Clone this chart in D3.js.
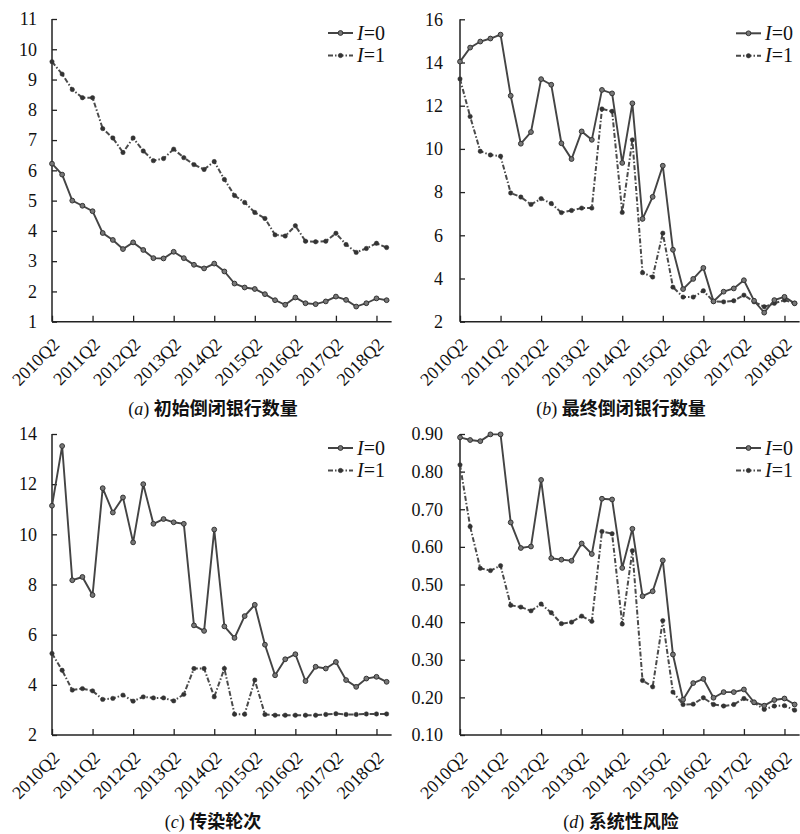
<!DOCTYPE html>
<html><head><meta charset="utf-8">
<script src="https://cdn.jsdelivr.net/npm/d3@7/dist/d3.min.js"></script>
<style>body{margin:0;background:#fff} svg{display:block}</style>
</head><body><svg id="c" width="800" height="834"></svg>
<script>
const quarters = ["2010Q2","2010Q3","2010Q4","2011Q1","2011Q2","2011Q3","2011Q4","2012Q1","2012Q2","2012Q3","2012Q4","2013Q1","2013Q2","2013Q3","2013Q4","2014Q1","2014Q2","2014Q3","2014Q4","2015Q1","2015Q2","2015Q3","2015Q4","2016Q1","2016Q2","2016Q3","2016Q4","2017Q1","2017Q2","2017Q3","2017Q4","2018Q1","2018Q2","2018Q3"];
const tickLabels = ["2010Q2","2011Q2","2012Q2","2013Q2","2014Q2","2015Q2","2016Q2","2017Q2","2018Q2"];
const seriesNames = ["I=0","I=1"];

const initialI0 = [6.22,5.86,5.00,4.83,4.65,3.93,3.70,3.40,3.62,3.37,3.10,3.09,3.31,3.10,2.88,2.76,2.92,2.66,2.26,2.13,2.08,1.91,1.71,1.56,1.80,1.61,1.58,1.67,1.83,1.72,1.50,1.61,1.77,1.71];
const initialI1 = [9.59,9.18,8.67,8.40,8.40,7.38,7.07,6.59,7.07,6.64,6.32,6.39,6.70,6.42,6.19,6.03,6.29,5.70,5.17,4.94,4.61,4.41,3.87,3.83,4.17,3.66,3.64,3.66,3.92,3.55,3.29,3.42,3.59,3.45];

const finalI0 = [14.04,14.69,14.97,15.11,15.29,12.46,10.24,10.78,13.23,12.97,10.26,9.53,10.81,10.42,12.73,12.57,9.35,12.11,6.76,7.78,9.22,5.33,3.51,3.98,4.49,2.94,3.39,3.54,3.92,2.97,2.42,3.00,3.15,2.85];
const finalI1 = [13.24,11.50,9.89,9.72,9.66,7.96,7.77,7.43,7.70,7.47,7.05,7.15,7.26,7.26,11.85,11.74,7.06,10.42,4.27,4.07,6.10,3.60,3.14,3.14,3.43,2.94,2.92,2.97,3.23,2.92,2.69,2.85,3.00,2.85];

const roundsI0 = [11.14,13.52,8.17,8.30,7.58,11.84,10.87,11.47,9.68,12.00,10.42,10.61,10.48,10.42,6.37,6.15,10.19,6.33,5.87,6.74,7.19,5.60,4.38,5.02,5.22,4.15,4.72,4.65,4.91,4.19,3.92,4.25,4.32,4.12];
const roundsI1 = [5.25,4.58,3.79,3.85,3.76,3.42,3.46,3.59,3.35,3.52,3.48,3.48,3.36,3.62,4.65,4.65,3.52,4.65,2.83,2.83,4.19,2.82,2.79,2.79,2.79,2.79,2.79,2.82,2.85,2.82,2.82,2.84,2.84,2.84];

const riskI0 = [0.891,0.884,0.881,0.899,0.899,0.665,0.597,0.601,0.778,0.570,0.566,0.563,0.609,0.581,0.728,0.726,0.544,0.648,0.469,0.482,0.564,0.314,0.194,0.238,0.249,0.199,0.214,0.214,0.221,0.187,0.178,0.193,0.197,0.181];
const riskI1 = [0.818,0.654,0.543,0.537,0.550,0.445,0.440,0.430,0.448,0.425,0.396,0.400,0.416,0.402,0.641,0.635,0.395,0.590,0.245,0.228,0.404,0.214,0.181,0.182,0.199,0.181,0.177,0.181,0.197,0.186,0.168,0.177,0.178,0.166];

const ticksA = [1,2,3,4,5,6,7,8,9,10,11];
const ticksB = [2,4,6,8,10,12,14,16];
const ticksC = [2,4,6,8,10,12,14];
const ticksD = [0.10,0.20,0.30,0.40,0.50,0.60,0.70,0.80,0.90];

const panels = [
  {letter:"a", title:"初始倒闭银行数量", s:[initialI0, initialI1], ticks:ticksA, fmt:d3.format("d"),
   x0:52, top:19, bot:321.7, pad:15},
  {letter:"b", title:"最终倒闭银行数量", s:[finalI0, finalI1], ticks:ticksB, fmt:d3.format("d"),
   x0:460, top:19.3, bot:321.7, pad:17},
  {letter:"c", title:"传染轮次", s:[roundsI0, roundsI1], ticks:ticksC, fmt:d3.format("d"),
   x0:52, top:434, bot:735, pad:15},
  {letter:"d", title:"系统性风险", s:[riskI0, riskI1], ticks:ticksD, fmt:d3.format(".2f"),
   x0:460, top:434, bot:735, pad:17}
];

const svg = d3.select("#c");
const SERIF = "'Liberation Serif','Times New Roman',serif";
const CJK = "'Noto Sans CJK SC','Noto Sans',sans-serif";
const step = 10.14;

panels.forEach(p => {
  const g = svg.append("g");
  const x = d3.scaleLinear().domain([0, quarters.length - 1]).range([p.x0, p.x0 + (quarters.length - 1) * step]);
  const y = d3.scaleLinear().domain([p.ticks[0], p.ticks[p.ticks.length - 1]]).range([p.bot, p.top]);

  const ya = g.append("g").attr("transform", `translate(${p.x0},0)`)
    .call(d3.axisLeft(y).tickValues(p.ticks).tickFormat(p.fmt).tickSizeInner(-5).tickSizeOuter(0).tickPadding(p.pad));
  ya.attr("font-family", SERIF).attr("font-size", 18);
  ya.select(".domain").remove();
  ya.selectAll(".tick line").attr("stroke", "#222").attr("stroke-width", 1.3);
  ya.selectAll("text").attr("font-family", SERIF).attr("font-size", 18).attr("fill", "#111");

  const tickIdx = tickLabels.map(t => quarters.indexOf(t));
  const xa = g.append("g").attr("transform", `translate(0,${p.bot})`)
    .call(d3.axisBottom(x).tickValues(tickIdx).tickFormat(i => quarters[i]).tickSizeInner(-6).tickSizeOuter(0).tickPadding(0));
  xa.attr("font-family", SERIF).attr("font-size", 18);
  xa.select(".domain").remove();
  xa.selectAll(".tick line").attr("stroke", "#222").attr("stroke-width", 1.3);
  xa.selectAll("text")
    .attr("font-family", SERIF).attr("font-size", 18).attr("fill", "#111")
    .attr("text-anchor", "end").attr("dy", null).attr("y", null)
    .attr("transform", "translate(8,24) rotate(-45)");

  g.append("line").attr("x1", p.x0).attr("x2", p.x0).attr("y1", p.top).attr("y2", p.bot)
    .attr("stroke", "#222").attr("stroke-width", 1.5);
  g.append("line").attr("x1", p.x0).attr("x2", x(quarters.length - 1) + 5).attr("y1", p.bot).attr("y2", p.bot)
    .attr("stroke", "#222").attr("stroke-width", 1.5);

  const line = d3.line().x((d, i) => x(i)).y(d => y(d));
  [1, 0].forEach(k => {
    const dashed = k === 1;
    g.append("path").datum(p.s[k]).attr("d", line).attr("fill", "none")
      .attr("stroke", dashed ? "#4a4a4a" : "#444").attr("stroke-width", dashed ? 2 : 1.9)
      .attr("stroke-dasharray", dashed ? "5,2,1.5,2" : null);
    g.append("g").selectAll("circle").data(p.s[k]).join("circle")
      .attr("cx", (d, i) => x(i)).attr("cy", d => y(d))
      .attr("r", dashed ? 2.2 : 2.4)
      .attr("fill", dashed ? "#333" : "#777").attr("stroke", "#333").attr("stroke-width", dashed ? 0.5 : 1);
  });

  const lx = p.x0 + 276, ly = p.top + 14;
  [0, 1].forEach(k => {
    const yy = ly + k * 22.5;
    g.append("line").attr("x1", lx).attr("x2", lx + 25).attr("y1", yy).attr("y2", yy)
      .attr("stroke", k ? "#4a4a4a" : "#444").attr("stroke-width", 2)
      .attr("stroke-dasharray", k ? "5,2,1.5,2" : null);
    g.append("circle").attr("cx", lx + 12.5).attr("cy", yy).attr("r", k ? 2.2 : 2.4)
      .attr("fill", k ? "#333" : "#777").attr("stroke", "#333").attr("stroke-width", k ? 0.5 : 1);
    const parts = seriesNames[k].split("=");
    const t = g.append("text").attr("x", lx + 29).attr("y", yy + 6.5)
      .attr("font-family", SERIF).attr("font-size", 20).attr("fill", "#111");
    t.append("tspan").attr("font-style", "italic").text(parts[0]);
    t.append("tspan").text("=" + parts[1]);
  });

  const cx = p.x0 + 161, cy = p.bot + 93;
  const cap = g.append("text").attr("x", cx).attr("y", cy).attr("text-anchor", "middle").attr("fill", "#111");
  cap.append("tspan").attr("font-family", SERIF).attr("font-size", 18).text("(");
  cap.append("tspan").attr("font-family", SERIF).attr("font-size", 18).attr("font-style", "italic").text(p.letter);
  cap.append("tspan").attr("font-family", SERIF).attr("font-size", 18).text(") ");
  cap.append("tspan").attr("font-family", CJK).attr("font-size", 18).attr("font-weight", 700).text(p.title);
});
</script></body></html>
